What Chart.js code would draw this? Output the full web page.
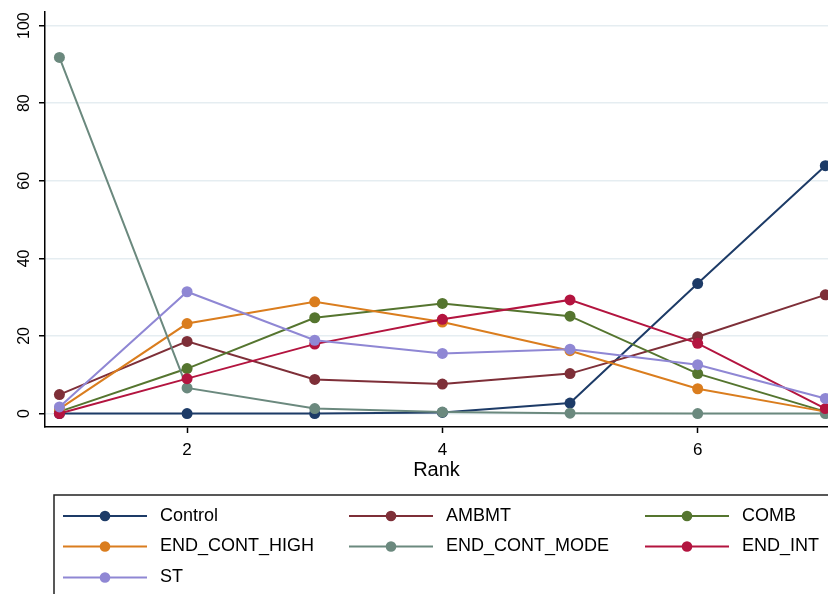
<!DOCTYPE html>
<html>
<head>
<meta charset="utf-8">
<script src="https://cdn.jsdelivr.net/npm/chart.js@4.4.1/dist/chart.umd.min.js"></script>
<style>
    html, body { margin: 0; padding: 0; background: #fff; overflow: hidden; }
    #wrap { width: 828px; height: 594px; }
</style>
</head>
<body>
<div id="wrap"><canvas id="rankChart" width="828" height="594"></canvas></div>
<script>
// Rank positions and the share (%) for each group
const ranks = [1, 2, 3, 4, 5, 6, 7];
const seriesNames = ["Control", "AMBMT", "COMB", "END_CONT_HIGH", "END_CONT_MODE", "END_INT", "ST"];
const control     = [0, 0, 0, 0.3, 2.7, 33.5, 63.9];
const ambmt       = [4.9, 18.6, 8.8, 7.6, 10.3, 19.8, 30.6];
const comb        = [0.5, 11.6, 24.7, 28.4, 25.1, 10.3, 0.5];
const endContHigh = [1.2, 23.2, 28.8, 23.6, 16.2, 6.4, 0.5];
const endContMode = [91.8, 6.6, 1.3, 0.4, 0.1, 0, 0];
const endInt      = [0, 9.0, 17.9, 24.3, 29.3, 18.1, 1.3];
const st          = [1.7, 31.4, 18.9, 15.5, 16.6, 12.6, 3.9];
const xTicks = [2, 4, 6];
const yTicks = [0, 20, 40, 60, 80, 100];

const seriesValues = [control, ambmt, comb, endContHigh, endContMode, endInt, st];
const colors = ["#1d3b67", "#7e2f38", "#55752f", "#da7d1e", "#6b897e", "#b3143f", "#8f87d4"];

const fontFamily = "'Liberation Sans', Arial, Helvetica, sans-serif";

// Stata-style legend box under the plot, three columns
const legendBox = {
    id: "legendBox",
    afterDraw(chart) {
        const ctx = chart.ctx;
        const colX = [63, 349, 645];
        const rowY = [516, 546.5, 577.5];
        ctx.save();
        ctx.strokeStyle = "#222";
        ctx.lineWidth = 1.5;
        ctx.strokeRect(54, 495, 800, 200);
        ctx.font = "18px " + fontFamily;
        ctx.textBaseline = "middle";
        ctx.fillStyle = "#000";
        chart.data.datasets.forEach((ds, i) => {
            const x = colX[i % 3];
            const y = rowY[Math.floor(i / 3)];
            ctx.strokeStyle = ds.borderColor;
            ctx.lineWidth = 2;
            ctx.beginPath();
            ctx.moveTo(x, y);
            ctx.lineTo(x + 84, y);
            ctx.stroke();
            ctx.fillStyle = ds.backgroundColor;
            ctx.beginPath();
            ctx.arc(x + 42, y, 5.3, 0, Math.PI * 2);
            ctx.fill();
            ctx.fillStyle = "#000";
            ctx.fillText(ds.label, x + 97, y);
        });
        ctx.restore();
    }
};

const datasets = seriesNames.map((name, i) => ({
    label: name,
    data: ranks.map((r, j) => ({ x: r, y: seriesValues[i][j] })),
    borderColor: colors[i],
    backgroundColor: colors[i],
    borderWidth: 2,
    pointRadius: 5.5,
    pointBorderWidth: 0,
    pointHoverRadius: 5.5,
    clip: false,
    order: seriesNames.length - i // later series drawn on top
}));

new Chart(document.getElementById("rankChart"), {
    type: "line",
    data: { datasets: datasets },
    plugins: [legendBox],
    options: {
        responsive: false,
        animation: false,
        layout: { autoPadding: false, padding: { top: 12, left: 0, right: 0, bottom: 114 } },
        scales: {
            x: {
                type: "linear",
                min: 0.887,
                max: 7.021,
                afterFit: scale => {
                    scale.height = 53;
                    scale.paddingLeft = 0;
                    scale.paddingRight = 0;
                },
                afterBuildTicks: scale => { scale.ticks = xTicks.map(v => ({ value: v })); },
                grid: { drawOnChartArea: false, drawTicks: true, tickLength: 6, tickColor: "#000", tickWidth: 1.5 },
                border: { color: "#000", width: 1.5 },
                ticks: { color: "#000", padding: 7, font: { family: fontFamily, size: 17 }, maxRotation: 0, autoSkip: false },
                title: {
                    display: true,
                    text: "Rank",
                    color: "#000",
                    font: { family: fontFamily, size: 20, lineHeight: 1 },
                    padding: { top: 0, bottom: 0 }
                }
            },
            y: {
                min: -3.46,
                max: 103.5,
                afterFit: scale => {
                    scale.width = 45;
                    scale.paddingTop = 0;
                    scale.paddingBottom = 0;
                },
                afterBuildTicks: scale => { scale.ticks = yTicks.map(v => ({ value: v })); },
                grid: { color: "#e5edf1", lineWidth: 1.5, drawTicks: true, tickLength: 6, tickColor: "#000", tickWidth: 1.5 },
                border: { color: "#000", width: 1.5 },
                ticks: {
                    color: "#000",
                    padding: 1,
                    crossAlign: "center",
                    minRotation: 90,
                    maxRotation: 90,
                    autoSkip: false,
                    font: { family: fontFamily, size: 16 }
                }
            }
        },
        plugins: {
            legend: { display: false },
            tooltip: { enabled: false }
        }
    }
});
</script>
</body>
</html>
